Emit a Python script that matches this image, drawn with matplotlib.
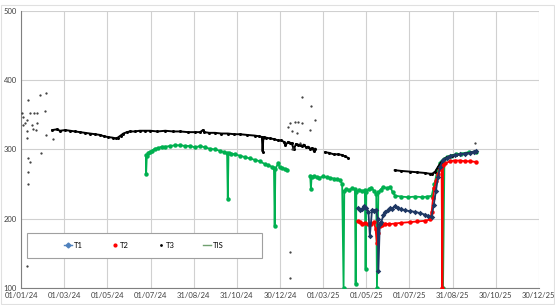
import matplotlib.pyplot as plt
from matplotlib.lines import Line2D
from matplotlib.patches import Rectangle
import numpy as np

# x values are days since 01/01/24
tick_labels = ["01/01/24", "01/03/24", "01/05/24", "01/07/24", "31/08/24", "31/10/24",
               "30/12/24", "01/03/25", "01/05/25", "01/07/25", "31/08/25", "30/10/25", "30/12/25"]

# T3 - scattered readings (black dots)
t3_dot_days = [1, 2, 3, 6, 8, 8, 9, 9, 10, 10, 10, 10, 12, 13, 15, 17, 18, 21, 22, 23, 27, 28, 34, 35, 35, 45,
               376, 378, 379, 381, 383, 386, 388, 390, 393, 395, 396, 407, 408, 414, 379, 381, 639]
t3_dot_vals = [353, 335, 347, 338, 343, 132, 326, 317, 371, 288, 268, 250, 282, 353, 335, 330, 353, 328, 338,
               353, 379, 295, 356, 381, 321, 315,
               333, 338, 114, 326, 302, 340, 324, 340, 309, 338, 376, 328, 363, 342, 152, 300, 309]

# T3 - continuous segments
t3_a_days = [44, 50, 55, 62, 69, 76, 83, 90, 97, 104, 111, 117, 122, 129, 133, 136, 140, 144, 149, 153, 160,
             167, 175, 182, 192, 203, 214, 224, 235, 245, 252, 256, 258, 265, 273, 282, 291, 300, 308, 318,
             329, 335, 339, 340, 341, 342, 345, 350, 356, 362, 366, 370, 372, 376, 378, 381, 384, 387, 390,
             393, 396, 398, 401, 404, 407, 410, 412, 414]
t3_a_vals = [328, 329, 327, 328, 327, 326, 325, 324, 323, 322, 321, 319, 318, 317, 316, 317, 320, 323, 325, 326,
             326, 327, 327, 327, 326, 327, 326, 326, 325, 325, 325, 328, 325, 324, 324, 323, 323, 322, 322, 321,
             320, 319, 318, 297, 316, 318, 317, 316, 315, 313, 313, 311, 306, 311, 310, 309, 300, 308, 307,
             306, 305, 307, 303, 304, 301, 302, 298, 301]
t3_b_days = [428, 434, 440, 446, 452, 456, 460]
t3_b_vals = [296, 295, 293, 293, 292, 290, 288]
t3_c_days = [526, 535, 547, 558, 569, 575, 579, 583, 587, 591, 595, 600, 606, 612, 618, 625, 632, 640]
t3_c_vals = [270, 269, 268, 267, 266, 265, 265, 268, 275, 281, 286, 289, 291, 292, 293, 294, 295, 297]

# TIS (green)
tis_a_days = [176, 176, 177, 179, 182, 184, 188, 193, 198, 203, 210, 217, 224, 231, 238, 245, 252, 259, 266, 273,
              280, 286, 290, 291, 292, 296, 301, 308, 315, 322, 329, 336, 343, 348, 353, 356, 357, 358, 362,
              364, 368, 371, 374]
tis_a_vals = [292, 265, 290, 295, 297, 298, 301, 302, 304, 304, 305, 306, 306, 305, 305, 303, 305, 303, 301, 300,
              298, 296, 295, 229, 295, 294, 293, 291, 289, 287, 285, 283, 279, 277, 275, 273, 190, 272, 280,
              274, 273, 272, 271]
tis_b_days = [407, 408, 409, 412, 416, 420, 425, 430, 435, 440, 445, 449, 452, 454, 455, 458, 462, 466, 470, 471,
              472, 476, 480, 484, 485, 486, 490, 493, 497, 500, 501, 503, 506, 510, 515, 520, 523, 527, 535,
              545, 555, 565, 572, 578, 582, 586, 590, 593, 594, 596, 600, 605, 612, 620, 630, 640]
tis_b_vals = [262, 243, 260, 261, 260, 259, 261, 260, 259, 258, 257, 256, 250, 100, 240, 243, 241, 244, 243, 105,
              238, 242, 240, 241, 128, 239, 243, 245, 240, 235, 100, 238, 242, 246, 244, 246, 238, 233, 232,
              231, 232, 231, 232, 233, 250, 270, 280, 283, 100, 286, 289, 291, 293, 294, 296, 297]

# T1 (navy)
t1_days = [474, 477, 480, 483, 486, 489, 491, 494, 497, 500, 502, 503, 505, 507, 510, 513, 516, 519, 522, 526,
           530, 535, 540, 547, 554, 562, 568, 573, 578, 581, 584, 587, 590, 594, 599, 604, 611, 618, 625,
           632, 637, 640]
t1_vals = [215, 213, 214, 218, 216, 210, 175, 212, 211, 213, 200, 125, 192, 195, 205, 210, 212, 215, 214, 218,
           215, 214, 212, 211, 210, 208, 206, 204, 203, 220, 240, 260, 275, 285, 288, 290, 292, 293, 294,
           295, 297, 298]

# T2 (red)
t2_days = [474, 477, 480, 484, 488, 492, 497, 499, 501, 503, 505, 508, 512, 518, 526, 535, 547, 558, 569, 576,
           578, 580, 582, 584, 587, 590, 592, 593, 594, 597, 604, 611, 618, 625, 632, 640]
t2_vals = [196, 195, 193, 194, 192, 193, 195, 185, 165, 180, 190, 191, 193, 192, 193, 194, 195, 196, 197, 199,
           210, 230, 245, 255, 265, 272, 276, 100, 278, 280, 283, 284, 284, 283, 283, 282]

navy = "#1f3864"
red = "#ff0000"
green = "#00b050"

plt.rcParams['font.family'] = ['Lato', 'DejaVu Sans']

fig = plt.figure(figsize=(5.55, 3.05), dpi=100)
ax = fig.add_axes([0.038, 0.056, 0.933, 0.908])

ax.plot(tis_a_days, tis_a_vals, color=green, lw=1.3, marker="o", ms=3.2, mew=0, zorder=3)
ax.plot(tis_b_days, tis_b_vals, color=green, lw=1.3, marker="o", ms=3.2, mew=0, zorder=3)
ax.plot(t3_a_days, t3_a_vals, color="black", lw=1.4, marker="o", ms=2.2, mew=0, zorder=4)
ax.plot(t3_b_days, t3_b_vals, color="black", lw=1.4, marker="o", ms=2.2, mew=0, zorder=4)
ax.plot(t3_c_days, t3_c_vals, color="black", lw=1.4, marker="o", ms=2.2, mew=0, zorder=4)
ax.plot(t3_dot_days, t3_dot_vals, ls="none", marker=".", ms=1.2, color="#333333", zorder=4)
ax.plot(t2_days, t2_vals, color=red, lw=1.3, marker="o", ms=3.2, mew=0, zorder=5)
ax.plot(t1_days, t1_vals, color=navy, lw=1.3, marker="D", ms=2.8, mew=0, zorder=6)

ax.set_xlim(0, 729)
ax.set_ylim(100, 500)
ax.set_xticks(np.linspace(0, 729, len(tick_labels)))
ax.set_xticklabels(tick_labels)
ax.set_yticks([100, 200, 300, 400, 500])
ax.tick_params(labelsize=5.5, length=0, colors="#404040", pad=3)
ax.grid(True, color="#d0d0d0", lw=0.8)
ax.set_axisbelow(True)
for s in ["top", "right"]:
    ax.spines[s].set_visible(False)
ax.spines["left"].set_color("#808080")
ax.spines["bottom"].set_color("#808080")

# legend box
ax.add_patch(Rectangle((0.012, 0.108), 0.453, 0.091, transform=ax.transAxes,
                       facecolor="white", edgecolor="#a0a0a0", lw=0.8, zorder=7))
handles = [
    Line2D([], [], color="#4f81bd", lw=1, marker="D", ms=2.5),
    Line2D([], [], color=red, ls="none", marker="o", ms=2),
    Line2D([], [], color="black", ls="none", marker=".", ms=2),
    Line2D([], [], color="#70a070", lw=1),
]
leg = ax.legend(handles, ["T1", "T2", "T3", "TIS"], loc="center", bbox_to_anchor=(0.237, 0.153),
                ncol=4, frameon=False, fontsize=5.5, handlelength=1.0, handletextpad=0.2,
                columnspacing=3.7)
leg.set_zorder(8)

fig.patches.append(Rectangle((0.002, 0.003), 0.996, 0.98, transform=fig.transFigure,
                             fill=False, edgecolor="#e0e0e0", lw=0.8))

fig.savefig("out.png", dpi=100)
